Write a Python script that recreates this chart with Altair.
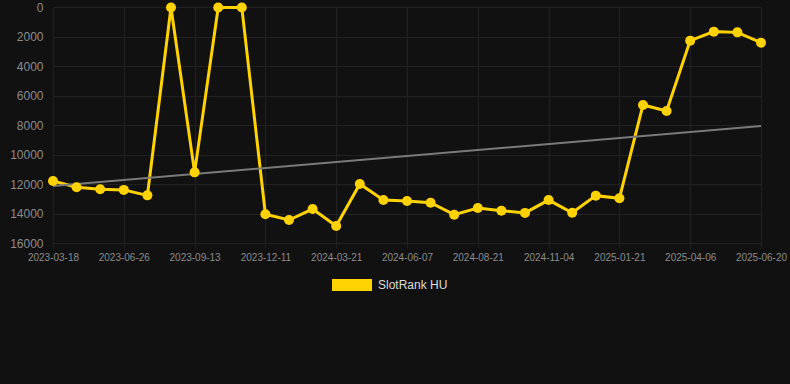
import altair as alt
import pandas as pd

dates = [
    "2023-03-18", "2023-04-21", "2023-05-24", "2023-06-26", "2023-07-22",
    "2023-08-18", "2023-09-13", "2023-10-12", "2023-11-11", "2023-12-11",
    "2024-01-14", "2024-02-17", "2024-03-21", "2024-04-16", "2024-05-12",
    "2024-06-07", "2024-07-02", "2024-07-27", "2024-08-21", "2024-09-15",
    "2024-10-10", "2024-11-04", "2024-11-30", "2024-12-26", "2025-01-21",
    "2025-02-14", "2025-03-12", "2025-04-06", "2025-04-30", "2025-05-25",
    "2025-06-20",
]
ranks = [
    11800, 12220, 12360, 12400, 12770, 30, 11210, 30, 30, 14050,
    14440, 13700, 14850, 12000, 13090, 13150, 13270, 14080, 13630, 13810,
    13960, 13090, 13950, 12790, 12970, 6640, 7050, 2280, 1670, 1720,
    2420,
]
tick_dates = dates[::3]
trend_dates = [dates[0], dates[-1]]
trend_values = [12140, 8070]
series_name = "SlotRank HU"

YELLOW = "#FFD200"
GRID = "#212121"

df = pd.DataFrame({"date": dates, "rank": ranks, "series": series_name})
trend = pd.DataFrame({"date": trend_dates, "rank": trend_values})

x_scale = alt.Scale(type="point", domain=dates, range=[5, 713], padding=0)
y_scale = alt.Scale(domain=[0, 16000], reverse=True, nice=False)

x = alt.X(
    "date:O",
    sort=dates,
    scale=x_scale,
    axis=alt.Axis(
        values=tick_dates, labelAngle=0, labelAlign="center",
        labelBaseline="top", title=None, domain=False,
        ticks=True, tickSize=5, tickColor=GRID, grid=True,
        gridColor=GRID, labelColor="#8c8c8c", labelFontSize=10,
        labelFont="Liberation Sans", labelPadding=4, labelOverlap=False,
        labelFlush=False,
    ),
)
y = alt.Y(
    "rank:Q",
    scale=y_scale,
    axis=alt.Axis(
        values=list(range(0, 16001, 2000)), format="d", title=None,
        domain=False, ticks=False, grid=True, gridColor=GRID,
        labelColor="#8c8c8c", labelFontSize=12, labelFont="Liberation Sans",
        labelPadding=5, labelOverlap=False, labelFlush=False,
    ),
)

trend_line = alt.Chart(trend).mark_line(color="#7a7a7a", strokeWidth=2).encode(
    x=x, y=y,
)

line = alt.Chart(df).mark_line(color=YELLOW, strokeWidth=3).encode(x=x, y=y)

points = alt.Chart(df).mark_point(filled=True, size=100, opacity=1).encode(
    x=x,
    y=y,
    color=alt.Color(
        "series:N",
        scale=alt.Scale(domain=[series_name], range=[YELLOW]),
        legend=alt.Legend(
            title=None, orient="none", legendX=284, legendY=258,
            symbolType="M-1,-0.3L1,-0.3L1,0.3L-1,0.3Z", symbolSize=1600,
            symbolStrokeWidth=0, symbolOpacity=1, labelColor="#dddddd",
            labelFontSize=12, labelFont="Liberation Sans", labelOffset=6,
            padding=0,
        ),
    ),
)

chart = (
    alt.layer(line, trend_line, points)
    .properties(
        width=742, height=236, background="#111111",
        padding={"left": 48, "top": 7, "right": 0, "bottom": 141},
        autosize=alt.AutoSizeParams(type="none"),
    )
    .configure_view(stroke=None)
)

chart.save("out.html", embed_options={"renderer": "svg", "actions": False})
